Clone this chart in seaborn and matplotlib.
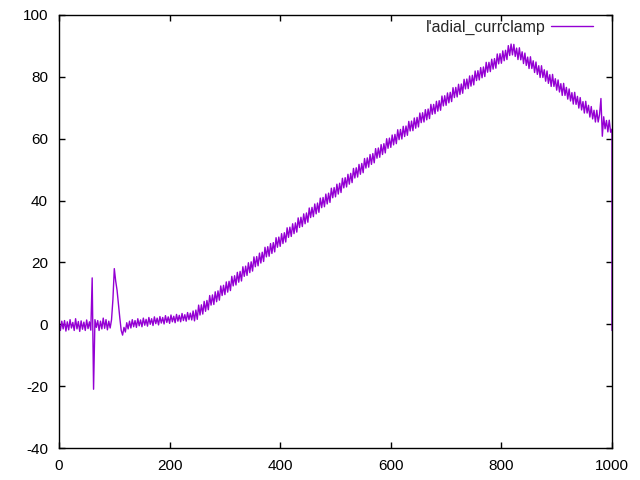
import numpy as np
import pandas as pd
import seaborn as sns
import matplotlib
matplotlib.use("Agg")
import matplotlib.pyplot as plt

# Series name as shown in the key
series_name = "l'adial_currclamp"

# Recorded values every 2.5 time units (0 .. 1000), read off the reference trace,
# followed by one last sample at t = 1000 where the trace drops back
values = [
    # 0 - 57.5
    0.5, -2.0, 1.0, -1.5, 1.2, -2.2, 0.8, -1.8, 1.5, -1.2, 0.6, -2.0,
    1.8, -1.5, 0.9, -2.3, 1.1, -1.6, 0.7, -2.0, 1.4, -1.4, 0.8, -1.9,
    # 60 - 62.5 artefact
    15.0, -21.0,
    # 65 - 97.5
    1.5, -1.0, 1.2, -2.0, 1.0, -1.5, 2.0, -1.3, 1.5, -1.8, 1.0, -1.2, 1.5, 8.0,
    # 100 - 127.5 bump
    18.0, 14.0, 11.0, 6.5, 2.0, -2.0, -3.5, -1.0, -2.5, 0.5, -1.5, 1.0,
    # 130 - 240 slow rise
    -1.2, 1.5, -0.8, 1.2, -1.0, 1.8, -0.5, 1.4, -0.8, 2.0, -0.3, 1.6,
    -0.6, 2.2, 0.0, 1.8, -0.4, 2.4, 0.2, 2.0, -0.2, 2.5, 0.4, 2.2,
    0.1, 2.8, 0.6, 2.4, 0.3, 3.0, 0.8, 2.6, 0.5, 3.2, 1.0, 2.9,
    0.8, 3.5, 1.2, 3.1, 1.0, 3.8, 1.5, 3.6, 1.4,
    # 242.5 - 400 ramp
    4.3, 1.1, 4.6, 1.6, 6.2, 3.0, 6.3, 3.3, 7.4, 4.2, 7.7, 4.7,
    9.3, 6.2, 9.5, 6.4, 10.5, 7.3, 10.8, 7.8, 12.4, 9.3, 12.6, 9.6,
    13.7, 10.4, 13.9, 10.9, 15.5, 12.4, 15.7, 12.7, 16.8, 13.6, 17.1, 14.0,
    18.6, 15.5, 18.8, 15.8, 19.9, 16.7, 20.2, 17.2, 21.8, 18.6, 21.9, 18.9,
    23.0, 19.8, 23.3, 20.3, 24.9, 21.8, 25.1, 22.0, 26.1, 22.9, 26.4, 23.4,
    28.0, 24.9, 28.2, 25.2,
    # 402.5 - 600
    29.3, 26.1, 29.6, 26.6, 31.2, 28.1, 31.4, 28.4, 32.5, 29.3, 32.8, 29.8,
    34.4, 31.3, 34.6, 31.6, 35.7, 32.5, 36.0, 33.0, 37.6, 34.5, 37.8, 34.8,
    38.9, 35.7, 39.2, 36.2, 40.8, 37.7, 41.0, 38.0, 42.1, 38.9, 42.4, 39.4,
    44.0, 40.9, 44.2, 41.2, 45.3, 42.1, 45.6, 42.6, 47.2, 44.1, 47.4, 44.4,
    48.5, 45.3, 48.8, 45.8, 50.4, 47.3, 50.6, 47.6, 51.7, 48.5, 52.0, 49.0,
    53.6, 50.5, 53.8, 50.8, 54.9, 51.7, 55.2, 52.2, 56.8, 53.7, 57.0, 54.0,
    58.1, 54.9, 58.4, 55.4, 60.0, 56.9, 60.2, 57.2,
    # 602.5 - 820
    61.2, 58.0, 61.4, 58.4, 62.9, 59.7, 63.0, 59.9, 64.0, 60.7, 64.1, 61.1,
    65.6, 62.5, 65.7, 62.6, 66.7, 63.4, 66.9, 63.8, 68.3, 65.2, 68.4, 65.4,
    69.4, 66.1, 69.6, 66.5, 71.1, 67.9, 71.1, 68.1, 72.1, 68.9, 72.3, 69.2,
    73.8, 70.6, 73.9, 70.8, 74.8, 71.6, 75.0, 72.0, 76.5, 73.3, 76.6, 73.5,
    77.6, 74.3, 77.7, 74.7, 79.2, 76.1, 79.3, 76.2, 80.3, 77.0, 80.5, 77.4,
    81.9, 78.8, 82.0, 79.0, 83.0, 79.7, 83.2, 80.1, 84.7, 81.5, 84.7, 81.7,
    85.7, 82.5, 85.9, 82.8, 87.4, 84.2, 87.5, 84.4, 88.4, 85.2, 88.6, 85.6,
    90.1, 86.9, 90.6, 87.1,
    # 822.5 - 1000 decline
    90.5, 86.6, 89.3, 85.6, 89.4, 85.5, 88.1, 84.3, 87.7, 83.7, 86.4, 82.7,
    86.5, 82.7, 85.2, 81.4, 84.8, 80.8, 83.6, 79.8, 83.6, 79.8, 82.3, 78.6,
    81.9, 77.9, 80.7, 76.9, 80.8, 76.9, 79.4, 75.7, 79.0, 75.1, 77.8, 74.0,
    77.9, 74.0, 76.6, 72.8, 76.1, 72.2, 74.9, 71.2, 75.0, 71.1, 73.7, 69.9,
    73.3, 69.3, 72.0, 68.3, 72.1, 68.3, 70.8, 67.0, 70.4, 66.4, 69.2, 65.4,
    69.2, 65.4, 67.9, 73.0, 60.8, 67.1, 63.2, 65.9, 62.2, 66.0, 62.1, 63.1,
    # last sample
    -2.0,
]

times = np.append(np.arange(0, 1000.1, 2.5), 1000.0)

df = pd.DataFrame({"t": times, "v": values, "series": series_name})

sns.set_style("ticks")
plt.rcParams["font.family"] = ["Liberation Sans", "DejaVu Sans"]
plt.rcParams["axes.unicode_minus"] = False

fig = plt.figure(figsize=(6.4, 4.8), dpi=100)
ax = fig.add_axes([59 / 640, 1 - 448 / 480, (612 - 59) / 640, (448 - 15) / 480])

sns.lineplot(data=df, x="t", y="v", hue="series", palette=["#9400d3"],
             estimator=None, sort=False, linewidth=1.0, ax=ax)

ax.set_xlim(0, 1000)
ax.set_ylim(-40, 100)
ax.set_xticks(range(0, 1001, 200))
ax.set_yticks(range(-40, 101, 20))
ax.set_xlabel("")
ax.set_ylabel("")

# gnuplot-like frame and inward mirrored ticks
for side in ax.spines.values():
    side.set_visible(True)
    side.set_color("black")
    side.set_linewidth(1.0)
ax.tick_params(direction="in", length=4, width=1, top=True, right=True,
               labelsize=11, colors="black", pad=8)

ax.legend(loc="upper right", bbox_to_anchor=(0.975, 1.0), frameon=False,
          markerfirst=False, fontsize=11.5, handlelength=2.65,
          handletextpad=0.35, borderaxespad=0.0, borderpad=0.3)

fig.savefig("out.png", dpi=100)
